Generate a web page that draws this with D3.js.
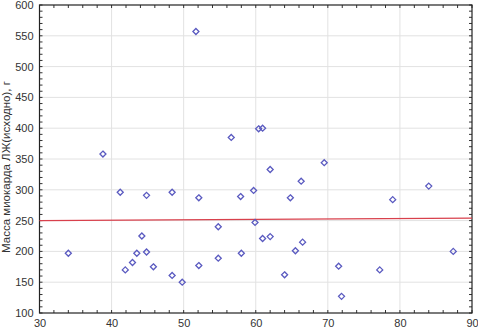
<!DOCTYPE html>
<html>
<head>
<meta charset="utf-8">
<script src="https://cdn.jsdelivr.net/npm/d3@7"></script>
<style>
  body { margin: 0; background: #fff; }
  svg text { font-family: "Liberation Sans", Arial, sans-serif; }
</style>
</head>
<body>
<svg class="scatter" width="478" height="330"></svg>
<script>
/**********************
 Data
**********************/
var xValues = [34.0, 38.8, 41.2, 41.9, 42.9, 43.5, 44.2, 44.85, 44.85, 45.8,
               48.4, 48.4, 49.8, 51.7, 52.1, 52.1, 54.8, 54.8, 56.6, 57.9,
               58.0, 59.7, 59.9, 60.4, 60.95, 60.95, 62.0, 62.0, 64.0, 64.8,
               65.5, 66.3, 66.5, 69.5, 71.5, 71.9, 77.2, 79.0, 84.0, 87.4];
var yValues = [197, 358, 296, 170, 182, 197, 225, 199, 291, 175,
               296, 161, 150, 557, 287, 177, 189, 240, 385, 289,
               197, 299, 247, 399, 400, 221, 333, 224, 162, 287,
               201, 314, 215, 344, 176, 127, 170, 284, 306, 200];
// regression line end points
var fitX = [30, 90];
var fitY = [250, 254];

var xTicks = [30, 40, 50, 60, 70, 80, 90];
var yTicks = [100, 150, 200, 250, 300, 350, 400, 450, 500, 550, 600];
var yLabel = 'Масса миокарда ЛЖ(исходно), г';

/**********************
 Layout
**********************/
var svg = d3.select('svg.scatter');
var padding = {t: 5, r: 6, b: 17, l: 39.5};
var chartWidth = 472 - padding.l;
var chartHeight = 313 - padding.t;

var xScale = d3.scaleLinear().domain([30, 90]).range([0, chartWidth]);
var yScale = d3.scaleLinear().domain([100, 600]).range([chartHeight, 0]);

var chartG = svg.append('g')
    .attr('transform', 'translate(' + [padding.l, padding.t] + ')');

// grid
chartG.append('g').selectAll('line.vg')
    .data(xTicks.slice(1, -1))
    .enter().append('line')
    .attr('x1', function(d) { return xScale(d); })
    .attr('x2', function(d) { return xScale(d); })
    .attr('y1', 0).attr('y2', chartHeight)
    .attr('stroke', '#e2e2e2');
chartG.append('g').selectAll('line.hg')
    .data(yTicks.slice(1, -1))
    .enter().append('line')
    .attr('y1', function(d) { return yScale(d); })
    .attr('y2', function(d) { return yScale(d); })
    .attr('x1', 0).attr('x2', chartWidth)
    .attr('stroke', '#e2e2e2');

// minor ticks on all four sides, pointing inward
var xMinor = d3.range(30, 90.01, 2);
var yMinor = d3.range(100, 600.01, 10);
var tickG = chartG.append('g').attr('stroke', '#333').attr('stroke-width', 1);
xMinor.forEach(function(v) {
  var px = xScale(v);
  tickG.append('line').attr('x1', px).attr('x2', px).attr('y1', chartHeight).attr('y2', chartHeight - 3);
  tickG.append('line').attr('x1', px).attr('x2', px).attr('y1', 0).attr('y2', 3);
});
yMinor.forEach(function(v) {
  var py = yScale(v);
  tickG.append('line').attr('y1', py).attr('y2', py).attr('x1', 0).attr('x2', 3);
  tickG.append('line').attr('y1', py).attr('y2', py).attr('x1', chartWidth).attr('x2', chartWidth - 3);
});

// frame
chartG.append('rect')
    .attr('width', chartWidth).attr('height', chartHeight)
    .attr('fill', 'none').attr('stroke', '#222').attr('stroke-width', 1.2);

// tick labels
var xAxisG = chartG.append('g')
    .attr('transform', 'translate(' + [0, chartHeight] + ')')
    .call(d3.axisBottom(xScale).tickValues(xTicks).tickSize(0).tickPadding(6));
var yAxisG = chartG.append('g')
    .call(d3.axisLeft(yScale).tickValues(yTicks).tickSize(0).tickPadding(6));
[xAxisG, yAxisG].forEach(function(g) {
  g.select('.domain').remove();
  g.selectAll('text').attr('font-size', 11).attr('fill', '#333')
    .attr('font-family', '"Liberation Sans", Arial, sans-serif');
});

// y label
svg.append('text')
    .attr('transform', 'translate(10,' + (padding.t + chartHeight / 2 + 8) + ') rotate(-90)')
    .attr('text-anchor', 'middle')
    .attr('font-size', 11.5)
    .attr('fill', '#333')
    .text(yLabel);

// regression line
chartG.append('line')
    .attr('x1', xScale(fitX[0])).attr('y1', yScale(fitY[0]))
    .attr('x2', xScale(fitX[1])).attr('y2', yScale(fitY[1]))
    .attr('stroke', '#d8404c').attr('stroke-width', 1.4);

// points (diamonds)
var points = xValues.map(function(x, i) { return {x: x, y: yValues[i]}; });
chartG.selectAll('.dot')
    .data(points)
    .enter().append('path')
    .attr('class', 'dot')
    .attr('d', 'M0,-3L3,0L0,3L-3,0Z')
    .attr('transform', function(d) {
      return 'translate(' + [xScale(d.x), yScale(d.y)] + ')';
    })
    .attr('fill', 'none')
    .attr('stroke', '#5a5ac0')
    .attr('stroke-width', 1.3);
</script>
</body>
</html>
